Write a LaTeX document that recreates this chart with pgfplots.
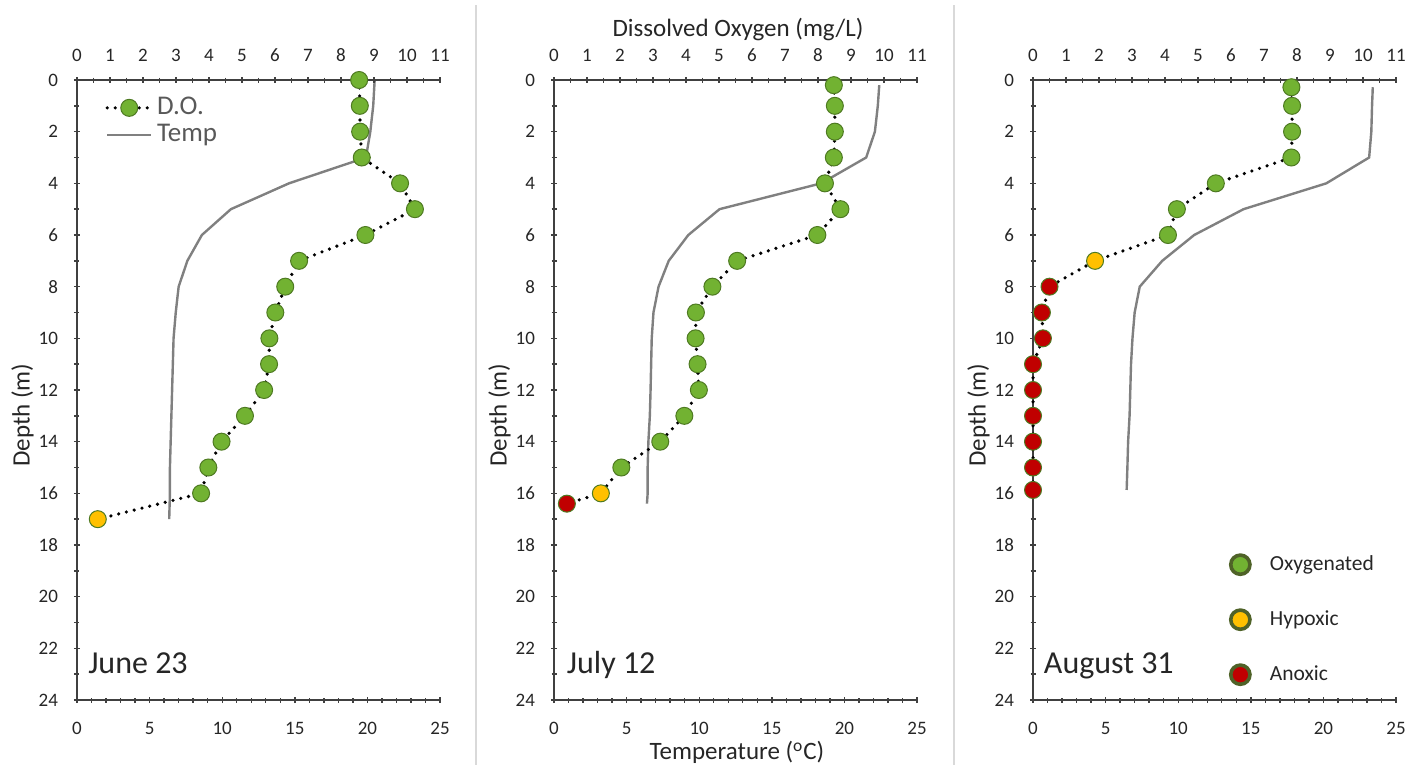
\documentclass[border=0pt]{standalone}
\usepackage{fontspec}
\setmainfont{Carlito}
\usepackage{pgfplots}
\pgfplotsset{compat=1.18}
\definecolor{dgreen}{HTML}{72B232}
\definecolor{mborder}{HTML}{4E7A22}
\definecolor{hyp}{HTML}{FFC000}
\definecolor{anox}{HTML}{C00000}
\definecolor{tgray}{HTML}{808080}
\definecolor{axgray}{HTML}{404040}
\definecolor{leggray}{HTML}{595959}
\definecolor{sepgray}{HTML}{D9D9D9}
\definecolor{legborder}{HTML}{4F6228}
\pgfplotsset{
  base/.style={scale only axis, width=181.5pt, height=310pt, ymin=0, ymax=24, y dir=reverse, clip=false,
    tick style={draw=axgray, line width=0.7pt},
    tick align=outside, major tick length=3pt, minor tick length=2.5pt,
    tick label style={font=\fontsize{9.5}{10}\selectfont, text=black!85},
    /pgf/number format/assume math mode=true,
    anchor=south west},
  doax/.style={base, xmin=0, xmax=11, axis x line=top, axis y line=left,
    axis line style={-, draw=axgray, line width=0.7pt},
    xtick={0,...,11}, minor x tick num=1,
    ytick={0,2,...,24}, minor y tick num=1,
    xticklabel style={yshift=4pt}, yticklabel style={xshift=-4.5pt}},
  tax/.style={base, xmin=0, xmax=25, axis x line=bottom, axis y line=none,
    axis line style={-, draw=axgray, line width=0.7pt},
    xtick={0,5,...,25}, minor x tick num=4, ytick=\empty,
    xticklabel style={yshift=-6pt}},
  dol/.style={black, line width=1.8pt, dash pattern=on 0pt off 4pt, line cap=round},
  tl/.style={tgray, line width=1.2pt},
  mk/.style={only marks, mark=*, mark size=4.25pt, mark options={draw=mborder, line width=0.5pt, fill=#1}},
  lmk/.style={only marks, mark=*, mark size=4.8pt, mark options={draw=legborder, line width=1.8pt, fill=#1}},
}
\begin{document}
\begin{tikzpicture}
\useasboundingbox (0,0) rectangle (712pt,382.5pt);
\draw[sepgray, line width=0.75pt] (238pt,0) -- (238pt,380pt);
\draw[sepgray, line width=0.75pt] (477pt,0) -- (477pt,380pt);

% ---------- Panel 1: June 23 ----------
\begin{axis}[tax, at={(38.5pt,32.5pt)}]
\addplot[tl] coordinates {(20.5,0) (20.4,1) (20.2,2) (19.9,3) (14.6,4) (10.6,5) (8.6,6) (7.6,7) (7.0,8) (6.8,9) (6.65,10) (6.6,11) (6.55,12) (6.5,13) (6.45,14) (6.4,15) (6.4,16) (6.35,17)};
\end{axis}
\begin{axis}[doax, at={(38.5pt,32.5pt)},
  legend image code/.code={\draw[mark repeat=2,mark phase=2,#1] plot coordinates {(0pt,0pt) (11pt,0pt) (22pt,0pt)};},
  legend style={at={(axis cs:0.85,0.54)}, anchor=north west, draw=none, fill=none, inner sep=0pt,
    font=\fontsize{13.5}{13.5}\selectfont, text=leggray, row sep=0pt,
    nodes={inner sep=0pt, text height=10pt, text depth=3.5pt}},
  legend cell align=left]
\addlegendimage{dol, mark=*, mark size=4.25pt, mark options={solid, draw=mborder, line width=0.5pt, fill=dgreen}}
\addlegendentry{\hspace{2pt}D.O.}
\addlegendimage{tl}
\addlegendentry{\hspace{2pt}Temp}
\addplot[dol, forget plot] coordinates {(8.55,0) (8.57,1) (8.58,2) (8.63,3) (9.79,4) (10.24,5) (8.74,6) (6.73,7) (6.31,8) (6.01,9) (5.83,10) (5.82,11) (5.67,12) (5.09,13) (4.38,14) (3.98,15) (3.76,16) (0.63,17)};
\addplot[mk=dgreen, forget plot] coordinates {(8.55,0) (8.57,1) (8.58,2) (8.63,3) (9.79,4) (10.24,5) (8.74,6) (6.73,7) (6.31,8) (6.01,9) (5.83,10) (5.82,11) (5.67,12) (5.09,13) (4.38,14) (3.98,15) (3.76,16)};
\addplot[mk=hyp, forget plot] coordinates {(0.63,17)};
\node[anchor=base west, font=\fontsize{16}{16}\selectfont, text=black!85, inner sep=0pt] at (axis cs:0.33,22.96) {June 23};
\end{axis}

% ---------- Panel 2: July 12 ----------
\begin{axis}[tax, at={(277pt,32.5pt)}]
\addplot[tl] coordinates {(22.4,0.2) (22.3,1) (22.1,2) (21.5,3) (18.4,4) (11.4,5) (9.25,6) (7.9,7) (7.2,8) (6.85,9) (6.73,10) (6.69,11) (6.65,12) (6.6,13) (6.5,14) (6.45,15) (6.45,16) (6.4,16.4)};
\end{axis}
\begin{axis}[doax, at={(277pt,32.5pt)}]
\addplot[dol, forget plot] coordinates {(8.48,0.2) (8.51,1) (8.51,2) (8.48,3) (8.21,4) (8.68,5) (7.98,6) (5.55,7) (4.80,8) (4.30,9) (4.29,10) (4.35,11) (4.39,12) (3.95,13) (3.22,14) (2.04,15) (1.42,16) (0.39,16.4)};
\addplot[mk=dgreen, forget plot] coordinates {(8.48,0.2) (8.51,1) (8.51,2) (8.48,3) (8.21,4) (8.68,5) (7.98,6) (5.55,7) (4.80,8) (4.30,9) (4.29,10) (4.35,11) (4.39,12) (3.95,13) (3.22,14) (2.04,15)};
\addplot[mk=hyp, forget plot] coordinates {(1.42,16)};
\addplot[mk=anox, forget plot] coordinates {(0.39,16.4)};
\node[anchor=base west, font=\fontsize{16}{16}\selectfont, text=black!85, inner sep=0pt] at (axis cs:0.38,22.96) {July 12};
\end{axis}

% ---------- Panel 3: August 31 ----------
\begin{axis}[tax, at={(516.5pt,32.5pt)}]
\addplot[tl] coordinates {(23.4,0.28) (23.35,1) (23.3,2) (23.15,3) (20.2,4) (14.5,5) (11.1,6) (8.9,7) (7.35,8) (7.0,9) (6.85,10) (6.75,11) (6.7,12) (6.65,13) (6.55,14) (6.5,15) (6.45,15.87)};
\end{axis}
\begin{axis}[doax, at={(516.5pt,32.5pt)},
  legend style={at={(axis cs:5.98,18.34)}, anchor=north west, draw=none, fill=none, inner sep=0pt,
    font=\fontsize{10.75}{10.75}\selectfont, text=black!85, row sep=17pt, column sep=10pt,
    nodes={inner sep=0pt, text height=8pt, text depth=2.5pt}},
  legend cell align=left]
\addlegendimage{lmk=dgreen}
\addlegendentry{Oxygenated}
\addlegendimage{lmk=hyp}
\addlegendentry{Hypoxic}
\addlegendimage{lmk=anox}
\addlegendentry{Anoxic}
\addplot[dol, forget plot] coordinates {(7.83,0.28) (7.85,1) (7.85,2) (7.83,3) (5.54,4) (4.36,5) (4.09,6) (1.88,7) (0.50,8) (0.27,9) (0.30,10) (0,11) (0,12) (0,13) (0,14) (0,15) (0,15.87)};
\addplot[mk=dgreen, forget plot] coordinates {(7.83,0.28) (7.85,1) (7.85,2) (7.83,3) (5.54,4) (4.36,5) (4.09,6)};
\addplot[mk=hyp, forget plot] coordinates {(1.88,7)};
\addplot[mk=anox, forget plot] coordinates {(0.50,8) (0.27,9) (0.30,10) (0,11) (0,12) (0,13) (0,14) (0,15) (0,15.87)};
\node[anchor=base west, font=\fontsize{16}{16}\selectfont, text=black!85, inner sep=0pt] at (axis cs:0.32,22.96) {August 31};
\end{axis}

% ---------- axis titles ----------
\foreach \xx in {11.25pt, 249.75pt, 489.25pt}{
  \node[rotate=90, anchor=center, inner sep=0pt, font=\fontsize{12.5}{12.5}\selectfont, text=black!85] at (\xx,175pt) {Depth (m)};
}
\node[anchor=base, inner sep=0pt, font=\fontsize{12.5}{12.5}\selectfont, text=black!85] at (369pt,364pt) {Dissolved Oxygen (mg/L)};
\node[anchor=base, inner sep=0pt, font=\fontsize{12.5}{12.5}\selectfont, text=black!85] at (368.5pt,2.6pt) {Temperature (\textsuperscript{o}C)};
\end{tikzpicture}
\end{document}
